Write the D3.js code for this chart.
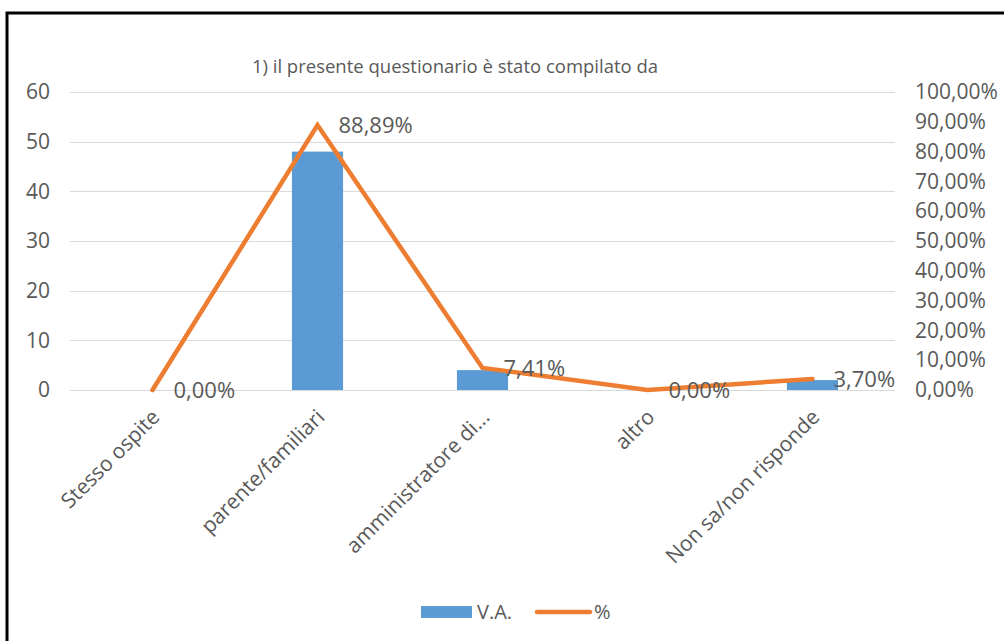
<!DOCTYPE html>
<html>
<head>
<meta charset="utf-8">
<script src="https://cdn.jsdelivr.net/npm/d3@7"></script>
<style>
  body { margin: 0; background: #fff; }
  svg text { font-family: "Open Sans", "Noto Sans", sans-serif; fill: #595959; }
</style>
</head>
<body>
<svg class="chart"></svg>
<script>
// Data
var categories = ["Stesso ospite", "parente/familiari", "amministratore di...", "altro", "Non sa/non risponde"];
var vaValues = [0, 48, 4, 0, 2];
var pctValues = [0.0, 0.8889, 0.0741, 0.0, 0.0370];
var leftTicks = [0, 10, 20, 30, 40, 50, 60];
var rightTicks = [0, 0.1, 0.2, 0.3, 0.4, 0.5, 0.6, 0.7, 0.8, 0.9, 1.0];
var titleText = "1) il presente questionario è stato compilato da";
var seriesNames = ["V.A.", "%"];

var width = 1004;
var height = 641;
var margin = { top: 92, right: 109, bottom: 251, left: 70 };
var barColor = "#5B9BD5";
var lineColor = "#ED7D31";

var it = d3.formatLocale({ decimal: ",", thousands: ".", grouping: [3], currency: ["", "€"] });
var fmtPct = it.format(".2%");

var chart = d3.select(".chart")
    .attr("width", width)
    .attr("height", height);

// Frame (top and left edges)
chart.append("path")
    .attr("d", "M7,641 V13 H1004")
    .attr("fill", "none")
    .attr("stroke", "#000")
    .attr("stroke-width", 3);

// Scales
var x = d3.scaleBand()
    .domain(categories)
    .range([margin.left, width - margin.right])
    .paddingInner(0.69)
    .paddingOuter(0.345);

var yLeft = d3.scaleLinear()
    .domain([0, 60])
    .range([height - margin.bottom, margin.top]);

var yRight = d3.scaleLinear()
    .domain([0, 1])
    .range([height - margin.bottom, margin.top]);

// Gridlines
chart.append("g")
    .selectAll("line")
    .data(leftTicks)
    .enter()
    .append("line")
    .attr("x1", margin.left)
    .attr("x2", width - margin.right)
    .attr("y1", function(d) { return Math.round(yLeft(d)) + 0.5; })
    .attr("y2", function(d) { return Math.round(yLeft(d)) + 0.5; })
    .attr("stroke", "#d9d9d9")
    .attr("stroke-width", 1);

// Left axis
var leftAxis = chart.append("g")
    .attr("transform", "translate(" + (margin.left - 20) + ",0)")
    .call(d3.axisLeft(yLeft).tickValues(leftTicks).tickSize(0).tickPadding(0));
leftAxis.select(".domain").remove();
leftAxis.selectAll("text").style("font-size", "21px").attr("fill", "#595959");

// Right axis
var rightAxis = chart.append("g")
    .attr("transform", "translate(" + (width - margin.right + 20) + ",0)")
    .call(d3.axisRight(yRight).tickValues(rightTicks).tickFormat(fmtPct).tickSize(0).tickPadding(0));
rightAxis.select(".domain").remove();
rightAxis.selectAll("text").style("font-size", "21px").attr("fill", "#595959");

// Bars
chart.append("g")
    .selectAll("rect")
    .data(vaValues)
    .enter()
    .append("rect")
    .attr("x", function(d, i) { return x(categories[i]); })
    .attr("width", x.bandwidth())
    .attr("y", function(d) { return yLeft(d); })
    .attr("height", function(d) { return yLeft(0) - yLeft(d); })
    .attr("fill", barColor);

// Percentage line
var line = d3.line()
    .x(function(d, i) { return x(categories[i]) + x.bandwidth() / 2; })
    .y(function(d) { return yRight(d); });

chart.append("path")
    .datum(pctValues)
    .attr("d", line)
    .attr("fill", "none")
    .attr("stroke", lineColor)
    .attr("stroke-width", 4.5)
    .attr("stroke-linejoin", "miter")
    .attr("stroke-linecap", "round");

// Data labels
chart.append("g")
    .selectAll("text")
    .data(pctValues)
    .enter()
    .append("text")
    .attr("x", function(d, i) { return x(categories[i]) + x.bandwidth() / 2 + 21; })
    .attr("y", function(d) { return yRight(d); })
    .attr("dy", "0.36em")
    .style("font-size", "22px")
    .text(function(d) { return fmtPct(d); });

// Category labels
chart.append("g")
    .selectAll("text")
    .data(categories)
    .enter()
    .append("text")
    .attr("transform", function(d) {
        return "translate(" + (x(d) + x.bandwidth() / 2 + 1) + "," + 411 + ") rotate(-45)";
    })
    .attr("text-anchor", "end")
    .attr("dy", "0.5em")
    .style("font-size", "21px")
    .text(function(d) { return d; });

// Title
chart.append("text")
    .attr("x", 455)
    .attr("y", 73)
    .attr("text-anchor", "middle")
    .style("font-size", "18.5px")
    .text(titleText);

// Legend
var legend = chart.append("g");
legend.append("rect")
    .attr("x", 421)
    .attr("y", 606)
    .attr("width", 51)
    .attr("height", 12)
    .attr("fill", barColor);
legend.append("text")
    .attr("x", 477)
    .attr("y", 612)
    .attr("dy", "0.36em")
    .style("font-size", "20px")
    .text(seriesNames[0]);
legend.append("line")
    .attr("x1", 537)
    .attr("x2", 590)
    .attr("y1", 612)
    .attr("y2", 612)
    .attr("stroke", lineColor)
    .attr("stroke-width", 4.5)
    .attr("stroke-linecap", "round");
legend.append("text")
    .attr("x", 594)
    .attr("y", 612)
    .attr("dy", "0.36em")
    .style("font-size", "20px")
    .text(seriesNames[1]);
</script>
</body>
</html>
